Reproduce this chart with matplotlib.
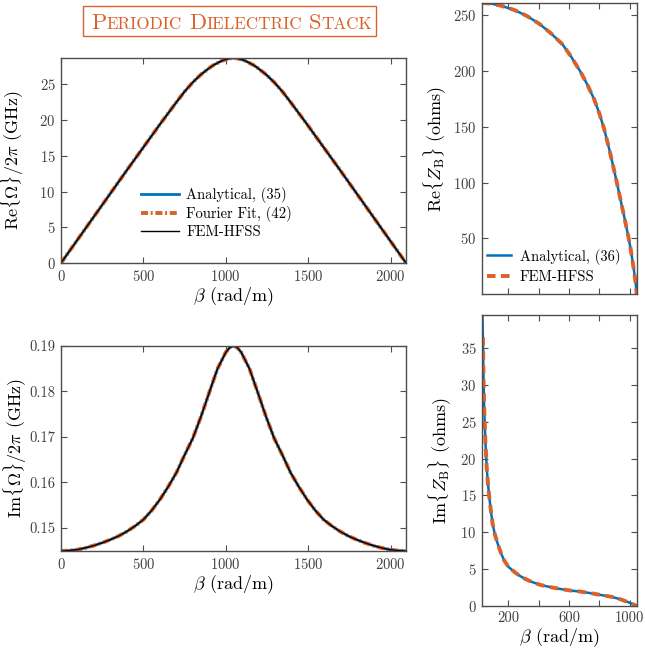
import matplotlib
matplotlib.use("Agg")
import matplotlib.pyplot as plt
from matplotlib.patches import Rectangle

plt.rcParams['font.family'] = 'serif'
plt.rcParams['font.serif'] = ['cmr10']
plt.rcParams['mathtext.fontset'] = 'cm'
plt.rcParams['axes.formatter.use_mathtext'] = True

# ---------------- data ----------------
beta_re = [0, 100, 200, 300, 400, 500, 600, 700, 750, 800, 850, 900, 925, 950, 975, 1000, 1025, 1047,
           1069, 1094, 1119, 1144, 1169, 1194, 1244, 1294, 1344, 1394, 1494, 1594, 1694, 1794, 1894,
           1994, 2094]
re_omega = [0, 3.25, 6.5, 9.75, 13.0, 16.2, 19.4, 22.5, 24.0, 25.3, 26.4, 27.3, 27.7, 28.0, 28.3,
            28.5, 28.65, 28.7,
            28.65, 28.5, 28.3, 28.0, 27.7, 27.3, 26.4, 25.3, 24.0, 22.5, 19.4, 16.2, 13.0, 9.75, 6.5,
            3.25, 0]

beta_im = [0, 50, 100, 150, 200, 250, 300, 350, 400, 450, 500, 550, 600, 650, 700, 750, 800, 850,
           900, 950, 1000, 1025, 1047,
           1069, 1094, 1144, 1194, 1244, 1294, 1344, 1394, 1444, 1494, 1544, 1594, 1644, 1694, 1744,
           1794, 1844, 1894, 1944, 1994, 2044, 2094]
im_omega = [0.1449, 0.1450, 0.1452, 0.1456, 0.1461, 0.1467, 0.1474, 0.1482, 0.1492, 0.1504, 0.1518,
            0.1538, 0.1562, 0.1590, 0.1621, 0.1660, 0.1697, 0.1745, 0.1798, 0.1850, 0.1886, 0.1897,
            0.1900,
            0.1897, 0.1886, 0.1850, 0.1798, 0.1745, 0.1697, 0.1660, 0.1621, 0.1590, 0.1562, 0.1538,
            0.1518, 0.1504, 0.1492, 0.1482, 0.1474, 0.1467, 0.1461, 0.1456, 0.1452, 0.1450, 0.1449]

beta_zr = [28, 83, 150, 237, 320, 402, 479, 556, 611, 677, 720, 765, 800, 831, 860, 886, 915, 941,
           965, 991, 1005, 1018, 1030, 1040, 1047]
re_zb = [261, 260.5, 258.6, 254.8, 249.5, 242.5, 234, 224, 213.5, 199, 188, 175, 162, 148.5, 133,
         118, 100.5, 84, 69, 52, 42, 31, 20, 10, 0]

beta_zi = [25, 28, 32, 35, 40, 48, 57, 65, 73, 84, 95, 110, 128, 150, 171, 200, 237, 270, 303, 350,
           413, 480, 545, 610, 677, 740, 809, 880, 941, 1000, 1047]
im_zb = [44, 39.5, 35, 31.1, 26.6, 22.1, 18.5, 16.5, 14.8, 12.9, 11.2, 9.7, 8.5, 7.2, 6.2, 5.3, 4.66,
         4.15, 3.76, 3.3, 2.85, 2.55, 2.3, 2.1, 1.95, 1.75, 1.5, 1.25, 0.9, 0.45, 0]
beta_zi_fem = [31, 35, 40, 48, 57, 65, 73, 84, 95, 110, 128, 150, 171, 200, 237, 270, 303, 350,
               413, 480, 545, 610, 677, 740, 809, 880, 941, 1000, 1047]
im_zb_fem = [36.5, 31.1, 26.6, 22.1, 18.5, 16.5, 14.8, 12.9, 11.2, 9.7, 8.5, 7.2, 6.2, 5.3, 4.66,
             4.15, 3.76, 3.3, 2.85, 2.55, 2.3, 2.1, 1.95, 1.75, 1.5, 1.25, 0.9, 0.45, 0]

BLUE = '#0072BD'
ORANGE = '#D9622B'
SPINE = '#4d4d4d'

W, H = 645, 654
fig = plt.figure(figsize=(W / 100, H / 100), dpi=100)


def make_ax(l, t, r, b):
    ax = fig.add_axes([l / W, 1 - b / H, (r - l) / W, (b - t) / H])
    for s in ax.spines.values():
        s.set_color(SPINE)
        s.set_linewidth(1.0)
    ax.tick_params(direction='in', top=True, right=True, length=4, width=0.8,
                   colors=SPINE, labelcolor='#404040', labelsize=10.5, pad=4)
    return ax


ax1 = make_ax(61, 58, 406, 263)
ax2 = make_ax(482, 3, 637, 294)
ax3 = make_ax(61, 346, 406, 551)
ax4 = make_ax(482, 315, 637, 606)

dashdot = (1.8, 0.7, 0.5, 0.7)
LBL = 13

# Top-left: Re{Omega}
ax1.plot(beta_re, re_omega, color=BLUE, lw=2.0, label='Analytical, (35)')
ax1.plot(beta_re, re_omega, color=ORANGE, lw=2.8, dashes=dashdot, label='Fourier Fit, (42)')
ax1.plot(beta_re, re_omega, color='black', lw=1.0, label='FEM-HFSS')
ax1.set_xlim(0, 2094)
ax1.set_ylim(0, 28.7)
ax1.set_xticks([0, 500, 1000, 1500, 2000])
ax1.set_yticks([0, 5, 10, 15, 20, 25])
ax1.set_xlabel(r'$\beta$ (rad/m)', fontsize=LBL, labelpad=1)
ax1.set_ylabel(r'$\mathrm{Re}\{\Omega\}/2\pi$ (GHz)', fontsize=LBL)
ax1.yaxis.set_label_coords(-0.101, 0.5)
ax1.legend(loc='center left', bbox_to_anchor=(0.232, 0.243), frameon=False,
           fontsize=10.5, handlelength=2.6, handletextpad=0.5, labelspacing=0.2,
           borderpad=0, borderaxespad=0)

# Bottom-left: Im{Omega}
ax3.plot(beta_im, im_omega, color=BLUE, lw=2.0)
ax3.plot(beta_im, im_omega, color=ORANGE, lw=2.8, dashes=dashdot)
ax3.plot(beta_im, im_omega, color='black', lw=1.0)
ax3.set_xlim(0, 2094)
ax3.set_ylim(0.1449, 0.19)
ax3.set_xticks([0, 500, 1000, 1500, 2000])
ax3.set_yticks([0.15, 0.16, 0.17, 0.18, 0.19])
ax3.set_yticklabels(['0.15', '0.16', '0.17', '0.18', '0.19'])
ax3.set_xlabel(r'$\beta$ (rad/m)', fontsize=LBL, labelpad=1)
ax3.set_ylabel(r'$\mathrm{Im}\{\Omega\}/2\pi$ (GHz)', fontsize=LBL)
ax3.yaxis.set_label_coords(-0.094, 0.5)

# Top-right: Re{Z_B}
ax2.plot(beta_zr, re_zb, color=BLUE, lw=1.8, label='Analytical, (36)')
ax2.plot(beta_zr, re_zb, color=ORANGE, lw=2.8, dashes=(2.2, 1.4), label='FEM-HFSS')
ax2.set_xlim(25, 1049)
ax2.set_ylim(0, 261)
ax2.set_xticks([200, 400, 600, 800, 1000])
ax2.set_xticklabels([])
ax2.set_yticks([50, 100, 150, 200, 250])
ax2.set_ylabel(r'$\mathrm{Re}\{Z_\mathrm{B}\}$ (ohms)', fontsize=LBL)
ax2.yaxis.set_label_coords(-0.222, 0.5)
ax2.legend(loc='center left', bbox_to_anchor=(0.035, 0.095), frameon=False,
           fontsize=10.5, handlelength=1.6, handletextpad=0.6, labelspacing=0.4,
           borderpad=0, borderaxespad=0)

# Bottom-right: Im{Z_B}
ax4.plot(beta_zi, im_zb, color=BLUE, lw=1.8)
ax4.plot(beta_zi_fem, im_zb_fem, color=ORANGE, lw=2.8, dashes=(2.2, 1.4))
ax4.set_xlim(25, 1049)
ax4.set_ylim(0, 39.5)
ax4.set_xticks([200, 400, 600, 800, 1000])
ax4.set_xticklabels(['200', '', '600', '', '1000'])
ax4.set_yticks([0, 5, 10, 15, 20, 25, 30, 35])
ax4.set_xlabel(r'$\beta$ (rad/m)', fontsize=LBL, labelpad=1)
ax4.set_ylabel(r'$\mathrm{Im}\{Z_\mathrm{B}\}$ (ohms)', fontsize=LBL)
ax4.yaxis.set_label_coords(-0.19, 0.5)

# Title in small caps with box
renderer = fig.canvas.get_renderer()
BIG, SMALL = 16.2, 12.3
pieces = [('P', BIG), ('ERIODIC', SMALL), (None, 0), ('D', BIG), ('IELECTRIC', SMALL), (None, 0),
          ('S', BIG), ('TACK', SMALL)]
x_px = 91.0
y_base = 1 - 29.0 / H
for s, fs in pieces:
    if s is None:
        x_px += 7.5
        continue
    t = fig.text(x_px / W, y_base, s, fontsize=fs, color=ORANGE, va='baseline', ha='left')
    bb = t.get_window_extent(renderer)
    x_px = bb.x1
fig.patches.append(Rectangle((83 / W, 1 - 36 / H), (376 - 83) / W, 30 / H,
                             transform=fig.transFigure, fill=False, edgecolor=ORANGE, lw=1.0))

fig.savefig('out.png', dpi=100)
